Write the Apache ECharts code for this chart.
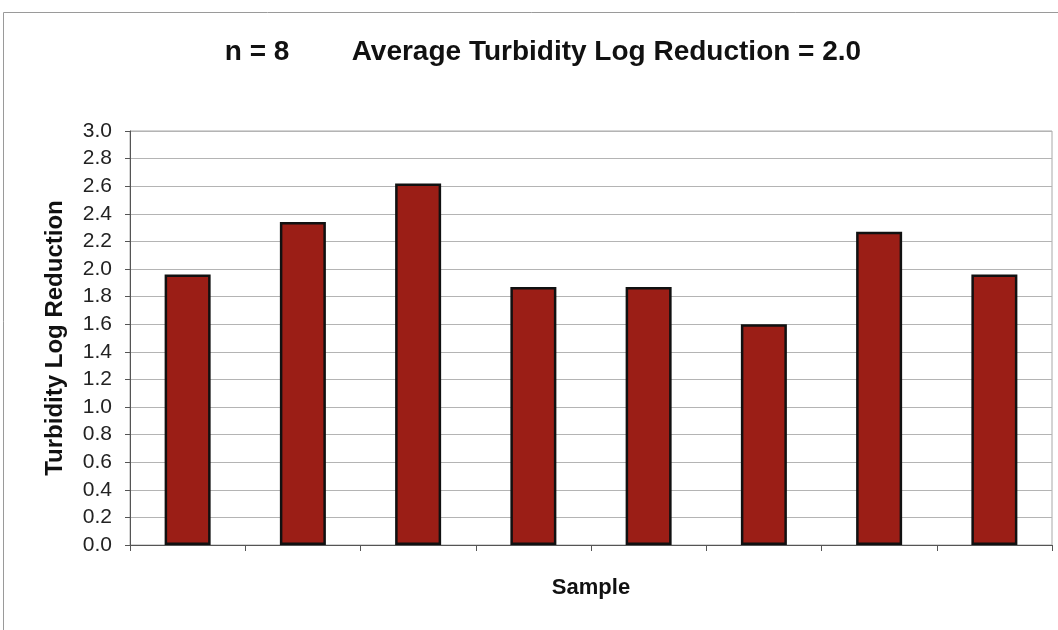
<!DOCTYPE html>
<html>
<head>
<meta charset="utf-8">
<script src="https://cdn.jsdelivr.net/npm/echarts@6/dist/echarts.min.js"></script>
<style>
  html, body { margin: 0; padding: 0; background: #ffffff; }
  #chart { width: 1058px; height: 630px; }
</style>
</head>
<body>
<div id="chart"></div>
<script>
// Sample labels (no tick text is shown on the category axis)
const samples = ['1', '2', '3', '4', '5', '6', '7', '8'];
// Turbidity log reduction per sample
const logReduction = [1.96, 2.34, 2.62, 1.87, 1.87, 1.60, 2.27, 1.96];
// Value axis range and step
const yMin = 0;
const yMax = 3.0;
const yStep = 0.2;

const FONT = 'Liberation Sans, Arial, Helvetica, sans-serif';

const chart = echarts.init(document.getElementById('chart'));

chart.setOption({
  backgroundColor: '#ffffff',
  animation: false,
  title: {
    text: 'n = 8        Average Turbidity Log Reduction = 2.0',
    left: 538,
    textAlign: 'center',
    top: 33,
    textStyle: {
      fontFamily: FONT,
      fontWeight: 'bold',
      fontSize: 28,
      color: '#111111'
    }
  },
  graphic: [{
    type: 'rect',
    shape: { x: 3.5, y: 12.5, width: 1200, height: 800 },
    style: { fill: 'none', stroke: '#9a9a9a', lineWidth: 1 },
    silent: true
  }],
  grid: {
    left: 130,
    right: 6,
    top: 131,
    bottom: 85,
    show: true,
    borderColor: '#a8a8a8',
    borderWidth: 1,
    backgroundColor: 'transparent'
  },
  xAxis: {
    type: 'category',
    data: samples,
    boundaryGap: true,
    name: 'Sample',
    nameLocation: 'middle',
    nameGap: 32,
    nameTextStyle: {
      fontFamily: FONT,
      fontWeight: 'bold',
      fontSize: 22,
      color: '#111111'
    },
    axisLine: { lineStyle: { color: '#555555', width: 1 } },
    axisTick: { show: true, alignWithLabel: false, length: 6, lineStyle: { color: '#555555' } },
    axisLabel: { show: false },
    splitLine: { show: false }
  },
  yAxis: {
    type: 'value',
    min: yMin,
    max: yMax,
    interval: yStep,
    name: 'Turbidity Log Reduction',
    nameLocation: 'middle',
    nameRotate: 90,
    nameGap: 63,
    nameTextStyle: {
      fontFamily: FONT,
      fontWeight: 'bold',
      fontSize: 24,
      color: '#111111'
    },
    axisLine: { show: true, lineStyle: { color: '#555555', width: 1 } },
    axisTick: { show: true, length: 5, lineStyle: { color: '#555555' } },
    axisLabel: {
      margin: 18,
      fontFamily: FONT,
      fontSize: 21,
      color: '#222222',
      formatter: v => v.toFixed(1)
    },
    splitLine: { show: true, lineStyle: { color: '#b4b4b4', width: 1 } }
  },
  series: [{
    type: 'bar',
    data: logReduction,
    barWidth: 46,
    itemStyle: {
      color: '#9b1e16',
      borderColor: '#111111',
      borderWidth: 2.5
    }
  }]
});
</script>
</body>
</html>
